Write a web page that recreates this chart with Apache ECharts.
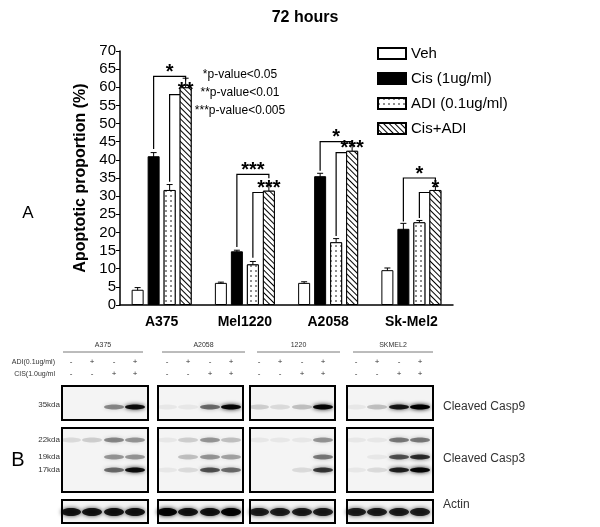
<!DOCTYPE html><html><head><meta charset="utf-8">
<script src="https://cdn.jsdelivr.net/npm/echarts@6/dist/echarts.min.js"></script>
<style>html,body{margin:0;background:#fff}#c{width:600px;height:527px}</style></head><body><div id="c"></div>
<script>
var categories=['A375','Mel1220','A2058','Sk-Mel2'];
var seriesNames=['Veh','Cis (1ug/ml)','ADI (0.1ug/ml)','Cis+ADI'];
var veh=[4.2,6.1,6.1,9.6], vehErr=[0.6,0.2,0.3,0.6];
var cis=[41,14.8,35.5,21], cisErr=[1,0.3,0.8,1.5];
var adi=[31.7,11.2,17.3,22.8], adiErr=[1.5,0.8,1,0.5];
var combo=[60,31.5,42.5,31.7], comboErr=[2.5,1.5,1.5,1];
// brackets: [group, fromSeries, fromY, lineY, label]
var brackets=[[0,1,43,63,'*'],[0,2,34,58,'**'],[1,1,16,36,'***'],[1,2,13,31,'***'],[2,1,37,45,'*'],[2,2,19,42,'***'],[3,1,23,35,'*'],[3,2,24,31,'*']];
var yTicks=[0,5,10,15,20,25,30,35,40,45,50,55,60,65,70];
var pText=['*p-value<0.05','**p-value<0.01','***p-value<0.005'];
// blot
var blotGroups=['A375','A2058','1220','SKMEL2'];
var adiRow=['-','+','-','+'], cisRow=['-','-','+','+'];
var casp9=[[0,0,0.4,0.9],[0.05,0.05,0.5,0.95],[0.15,0.1,0.2,0.95],[0.05,0.2,0.85,1]];
var c3_22=[[0.1,0.15,0.4,0.35],[0.05,0.15,0.35,0.2],[0.05,0.05,0.05,0.35],[0.05,0.05,0.45,0.45]];
var c3_19=[[0,0,0.35,0.35],[0,0.2,0.35,0.3],[0,0,0,0.45],[0,0.05,0.6,0.75]];
var c3_17=[[0,0,0.5,0.9],[0.05,0.1,0.6,0.5],[0,0,0.1,0.7],[0.05,0.1,0.8,0.95]];
var actin=[[0.85,0.85,0.85,0.85],[0.95,0.85,0.85,0.95],[0.8,0.8,0.8,0.8],[0.8,0.8,0.8,0.8]];
var kda=['35kda','22kda','19kda','17kda'];
var rowLabels=['Cleaved Casp9','Cleaved Casp3','Actin'];

var chart=echarts.init(document.getElementById('c'));
var BW=12,GAP=4;
function mk(name,data,color,decal){return {name:name,type:'bar',data:data,barWidth:BW,barGap:(GAP/BW*100)+'%',
 itemStyle:{color:color,borderColor:'#000',borderWidth:1,decal:decal},emphasis:{disabled:true}};}
var dotDecal={symbol:'circle',symbolSize:0.8,dashArrayX:[2,3],dashArrayY:[2,3],color:'#000',backgroundColor:'#fff'};
var lineDecal={symbol:'rect',dashArrayX:[1,0],dashArrayY:[1,3],rotation:Math.PI/4,color:'#000',backgroundColor:'#fff'};
chart.setOption({
 animation:false,aria:{enabled:false},
 title:{text:'72 hours',left:300,textAlign:'center',top:5,textStyle:{fontSize:16,fontWeight:'bold',color:'#000',fontFamily:'Arial, Liberation Sans'}},
 legend:{orient:'vertical',left:372,top:41,icon:'rect',itemWidth:28,itemHeight:11,itemGap:10,data:seriesNames,
  textStyle:{fontSize:15,color:'#000',fontFamily:'Liberation Sans'}},
 grid:{left:120,top:51,width:333,height:254},
 xAxis:{type:'category',data:categories,axisLine:{lineStyle:{color:'#000',width:1.5}},axisTick:{show:false},
  axisLabel:{fontSize:14,fontWeight:'bold',color:'#000',margin:10,fontFamily:'Liberation Sans'}},
 yAxis:{type:'value',min:0,max:70,interval:5,name:'Apoptotic proportion (%)',nameLocation:'middle',nameGap:27,
  nameTextStyle:{fontSize:16,fontWeight:'bold',color:'#000',fontFamily:'Liberation Sans'},
  axisLine:{show:true,lineStyle:{color:'#000',width:1.5}},axisTick:{show:true,length:4,lineStyle:{color:'#000'}},
  splitLine:{show:false},axisLabel:{fontSize:15,color:'#000',margin:4,fontFamily:'Liberation Sans',formatter:function(v){return yTicks.indexOf(v)>=0?v:'';}}},
 series:[mk(seriesNames[0],veh,'#fff'),mk(seriesNames[1],cis,'#000'),mk(seriesNames[2],adi,'#fff',dotDecal),mk(seriesNames[3],combo,'#fff',lineDecal)]
});
var g=[];
var vals=[veh,cis,adi,combo],errs=[vehErr,cisErr,adiErr,comboErr];
function px(gi,si,y){var p=chart.convertToPixel({xAxisIndex:0,yAxisIndex:0},[gi,y]);return [p[0]+(si-1.5)*(BW+GAP),p[1]];}
var ls={stroke:'#000',lineWidth:1};
for(var s=0;s<4;s++)for(var i=0;i<4;i++){
 var a=px(i,s,vals[s][i]+errs[s][i]),b=px(i,s,vals[s][i]-errs[s][i]);
 g.push({type:'line',shape:{x1:a[0],y1:a[1],x2:a[0],y2:b[1]},style:ls});
 g.push({type:'line',shape:{x1:a[0]-3,y1:a[1],x2:a[0]+3,y2:a[1]},style:ls});
 g.push({type:'line',shape:{x1:a[0]-3,y1:b[1],x2:a[0]+3,y2:b[1]},style:ls});
}
brackets.forEach(function(br){
 var f=px(br[0],br[1],br[2]),t=px(br[0],br[1],br[3]),e=px(br[0],3,br[3]);
 g.push({type:'polyline',shape:{points:[[f[0],f[1]],[t[0],t[1]],[e[0],e[1]],[e[0],e[1]+4]]},style:{stroke:'#000',lineWidth:1.2,fill:null}});
 var lx=br[1]==1?(t[0]+e[0])/2:e[0];
 g.push({type:'text',x:lx,y:t[1]+6,style:{text:br[4],font:'bold 20px Liberation Sans',fill:'#000',align:'center',verticalAlign:'bottom'}});
});
pText.forEach(function(t,i){g.push({type:'text',x:240,y:75+i*18,style:{text:t,font:'12px Liberation Sans',fill:'#000',align:'center',verticalAlign:'middle'}});});
g.push({type:'text',x:28,y:213,style:{text:'A',font:'17px Liberation Sans',fill:'#000',align:'center',verticalAlign:'middle'}});
g.push({type:'text',x:18,y:460,style:{text:'B',font:'20px Liberation Sans',fill:'#000',align:'center',verticalAlign:'middle'}});
// blot
var boxX=[62,158,250,347],boxW=[86,85,85,86],lane=[9,30,52,73];
var hdrX=[[63,143],[162,245],[257,340],[353,433]];
blotGroups.forEach(function(n,k){
 g.push({type:'text',x:(hdrX[k][0]+hdrX[k][1])/2,y:345,style:{text:n,font:'7px Liberation Sans',fill:'#333',align:'center',verticalAlign:'middle'}});
 g.push({type:'line',shape:{x1:hdrX[k][0],y1:352,x2:hdrX[k][1],y2:352},style:{stroke:'#555',lineWidth:0.8}});
 for(var j=0;j<4;j++){
  g.push({type:'text',x:boxX[k]+lane[j],y:362,style:{text:adiRow[j],font:'8px Liberation Sans',fill:'#333',align:'center',verticalAlign:'middle'}});
  g.push({type:'text',x:boxX[k]+lane[j],y:374,style:{text:cisRow[j],font:'8px Liberation Sans',fill:'#333',align:'center',verticalAlign:'middle'}});
 }
 var rows=[[386,420,[[407,casp9]]],[428,492,[[440,c3_22],[457,c3_19],[470,c3_17]]],[500,523,[[512,actin]]]];
 rows.forEach(function(r){
  g.push({type:'rect',shape:{x:boxX[k],y:r[0],width:boxW[k],height:r[1]-r[0]},style:{fill:'#f4f4f4',stroke:'#000',lineWidth:2}});
  r[2].forEach(function(b){for(var j=0;j<4;j++){var v=b[1][k][j];if(v<=0)continue;
   g.push({type:'ellipse',shape:{cx:boxX[k]+lane[j],cy:b[0],rx:10,ry:r[1]-r[0]>30?2.5:4},
    style:{fill:'rgba(0,0,0,'+v+')',shadowBlur:4,shadowColor:'rgba(0,0,0,'+v+')'}});}});
 });
});
g.push({type:'text',x:55,y:362,style:{text:'ADI(0.1ug/ml)',font:'7px Liberation Sans',fill:'#333',align:'right',verticalAlign:'middle'}});
g.push({type:'text',x:55,y:374,style:{text:'CIS(1.0ug/ml',font:'7px Liberation Sans',fill:'#333',align:'right',verticalAlign:'middle'}});
[[405,0],[440,1],[457,2],[470,3]].forEach(function(a){g.push({type:'text',x:60,y:a[0],style:{text:kda[a[1]],font:'8px Liberation Sans',fill:'#333',align:'right',verticalAlign:'middle'}});});
[407,459,505].forEach(function(y,i){g.push({type:'text',x:443,y:y,style:{text:rowLabels[i],font:'12px Liberation Sans',fill:'#333',align:'left',verticalAlign:'middle'}});});
chart.setOption({graphic:g});
</script></body></html>
